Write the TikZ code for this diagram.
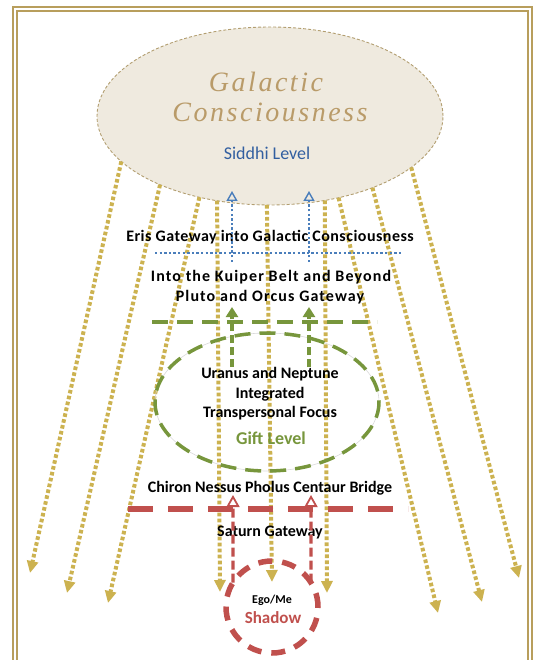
\documentclass[tikz,border=0pt]{standalone}
\usepackage{fontspec}
\setmainfont{Carlito}
\newfontfamily\galfont[LetterSpace=9]{Liberation Serif}
\usetikzlibrary{arrows.meta,shapes.geometric}

\definecolor{framegold}{RGB}{184,158,92}
\definecolor{skybeige}{RGB}{239,234,223}
\definecolor{beigeline}{RGB}{178,158,112}
\definecolor{raygold}{RGB}{204,178,80}
\definecolor{titletan}{RGB}{185,155,105}
\definecolor{siddhiblue}{RGB}{74,126,187}
\definecolor{siddhitext}{RGB}{50,95,160}
\definecolor{giftgreen}{RGB}{119,150,60}
\definecolor{shadowred}{RGB}{192,80,77}

\begin{document}
\begin{tikzpicture}[x=1pt, y=-1pt,
    frame line/.style={draw=framegold, line width=2pt},
    ray/.style={draw=raygold, line width=4pt, dash pattern=on 3.6pt off 2.4pt,
        -{Triangle[length=12pt,width=11pt]}},
    eris line/.style={draw=siddhiblue, line width=2.8pt,
        dash pattern=on 2.4pt off 2.2pt},
    eris arrow/.style={eris line, -{Triangle[open,length=10pt,width=11pt,line width=1.4pt]}},
    pluto line/.style={draw=giftgreen, line width=3.5pt, dash pattern=on 16pt off 9pt},
    pluto arrow/.style={draw=giftgreen, line width=3.2pt, dash pattern=on 8pt off 4pt,
        -{Triangle[length=10pt,width=12pt]}},
    saturn line/.style={draw=shadowred, line width=5.5pt, dash pattern=on 25pt off 15pt},
    saturn arrow/.style={draw=shadowred, line width=3.2pt, dash pattern=on 9pt off 4pt,
        -{Triangle[open,length=12pt,width=13pt,line width=1.8pt]}},
    level text/.style={font=\bfseries\fontsize{16}{19.5}\selectfont, inner sep=0pt, align=center},
    spaced text/.style={font=\bfseries\fontsize{16}{19.5}\selectfont\addfontfeature{LetterSpace=7},
        inner sep=0pt}]
    \useasboundingbox (0,0) rectangle (534,660);
    \draw[frame line] (13,660) -- (13,7) -- (531.5,7) -- (531.5,660);
    \draw[frame line] (17,660) -- (17,11.5) -- (527.5,11.5) -- (527.5,660);

    % galactic consciousness
    \node[ellipse, minimum width=346pt, minimum height=178pt, inner sep=0pt, outer sep=0pt,
        fill=skybeige, draw=beigeline, line width=0.9pt, dash pattern=on 3pt off 2pt] (gc) at (270,116) {};
    \node[font=\galfont\itshape\fontsize{28}{32}\selectfont, text=titletan] (gal) at (266,82) {Galactic};
    \node[font=\galfont\itshape\fontsize{28}{32}\selectfont, text=titletan] (con) at (270,112) {Consciousness};
    \node[font=\fontsize{18}{21}\selectfont, text=siddhitext] (siddhi) at (267,153) {Siddhi Level};

    \foreach \ang/\ex/\ey [count=\i] in {197.3/30/573, 212.1/67/593, 229.2/108/603,
        238.1/220/592, 268.1/272/582, 303.2/327/593, 310.8/438/613, 325.9/482/602, 340.7/519/578}{
      \coordinate (end\i) at (\ex,\ey);
      \draw[ray] (gc.\ang) -- (end\i);
    }

    % gift level
    \node[ellipse, minimum width=224pt, minimum height=138pt, inner sep=0pt, outer sep=0pt,
        draw=gray!30, line width=0.6pt] (gift) at (267,402) {};
    \draw[pluto line] (gift.center) ellipse [x radius=112, y radius=69];

    % shadow
    \node[circle, minimum size=92pt, inner sep=0pt, outer sep=0pt, draw=shadowred,
        line width=5.5pt, dash pattern=on 14pt off 10pt] (ego) at (272,607) {};

    % gateways
    \coordinate (eris w) at (155,253);
    \coordinate (eris e) at (403,253);
    \coordinate (pluto w) at (152,322);
    \coordinate (pluto e) at (377,322);
    \coordinate (saturn w) at (128,509);
    \coordinate (saturn e) at (408,509);
    \draw[eris line] (eris w) -- (eris e);
    \draw[pluto line] (pluto w) -- (pluto e);
    \draw[saturn line] (saturn w) -- (saturn e);

    \node[level text, font=\bfseries\fontsize{16}{19.5}\selectfont\addfontfeature{LetterSpace=3}] (eris) at (270,237) {Eris Gateway into Galactic Consciousness};
    \node[spaced text] (kuiper) at (271,277) {Into the Kuiper Belt and Beyond};
    \node[spaced text] (pluto) at (270,297) {Pluto and Orcus Gateway};
    \node[level text] (focus) at (270,394) {Uranus and Neptune\\Integrated\\Transpersonal Focus};
    \node[font=\bfseries\fontsize{18}{21}\selectfont, text=giftgreen] (giftlvl) at (271,438) {Gift Level};
    \node[level text] (chiron) at (270,488) {Chiron Nessus Pholus Centaur Bridge};
    \node[level text] (saturn) at (270,533) {Saturn Gateway};
    \node[font=\bfseries\fontsize{12}{14}\selectfont] (egome) at (272,600) {Ego/Me};
    \node[font=\bfseries\fontsize{17}{20}\selectfont, text=shadowred] (shadow) at (273,618) {Shadow};

    % upward arrows
    \coordinate (b1) at (232,262);  \coordinate (t1) at (232,191);
    \coordinate (b2) at (309,262);  \coordinate (t2) at (309,191);
    \coordinate (g1) at (232,367);  \coordinate (h1) at (232,307);
    \coordinate (g2) at (309,367);  \coordinate (h2) at (309,307);
    \coordinate (r1) at (233,495);  \coordinate (r2) at (311,495);
    \draw[eris arrow] (b1) -- (t1);
    \draw[eris arrow] (b2) -- (t2);
    \draw[pluto arrow] (g1) -- (h1);
    \draw[pluto arrow] (g2) -- (h2);
    \draw[saturn arrow] (ego.148) -- (r1);
    \draw[saturn arrow] (ego.32) -- (r2);
\end{tikzpicture}
\end{document}
